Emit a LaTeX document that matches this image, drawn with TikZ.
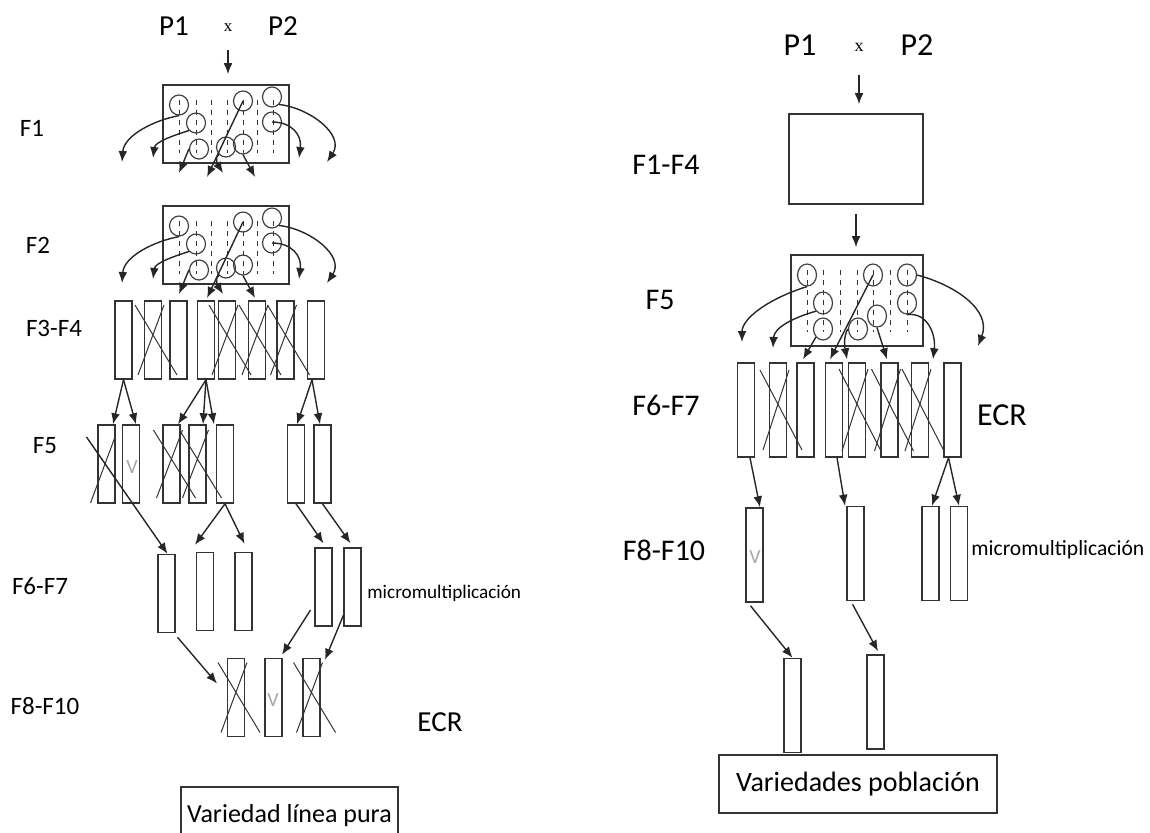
\documentclass[tikz,border=0pt]{standalone}
\usepackage{fontspec}
\setmainfont{Carlito}
\newfontfamily\crossfont{Liberation Serif}
\usetikzlibrary{shapes.geometric, arrows.meta, positioning}

% X over a discarded line
\newcommand\barcross[2]{%
  \draw[xline] ([shift={(-18,-#2)}]#1.center) -- ([shift={(24,#2)}]#1.center)
               ([shift={(11,-#2)}]#1.center) -- ([shift={(-15,#2)}]#1.center);}

\begin{document}
\begin{tikzpicture}[
    x=0.5pt, y=-0.5pt,
    >={Latex[length=5.5pt,width=4.4pt]},
    bar/.style={draw=black!80, line width=0.75pt, minimum width=8.5pt, minimum height=39pt, inner sep=0pt},
    tallbar/.style={bar, minimum height=47pt},
    genbox/.style={draw=black!80, line width=0.8pt, inner sep=0pt},
    seed/.style={ellipse, draw=black!75, line width=0.6pt, minimum width=9.5pt, minimum height=10pt, inner sep=0pt},
    seedR/.style={seed, minimum height=11pt},
    dashline/.style={black!80, line width=0.5pt, dash pattern=on 2.5pt off 2.5pt},
    xline/.style={black!80, line width=0.5pt},
    flow/.style={->, black!85, line width=0.7pt},
    gen/.style={font=\fontsize{12.5}{14}\selectfont},
    genR/.style={font=\fontsize{15}{17}\selectfont},
    tag/.style={anchor=west, inner sep=0pt},
    vmark/.style={font=\fontsize{10}{11}\selectfont, text=black!35},
]
\clip (0,0) rectangle (1150,832);

% ---------- left: pure line variety ----------
\node[font=\fontsize{14.5}{16}\selectfont] (p1) at (174,26) {P1};
\node[font=\crossfont\fontsize{8.5}{9}\selectfont] (cx) at (228,28) {x};
\node[font=\fontsize{14.5}{16}\selectfont] (p2) at (283,26) {P2};

\node[gen] (lf1) at (32,128) {F1};
\node[gen] (lf2) at (38,245) {F2};
\node[gen] (lf34) at (54,328) {F3-F4};
\node[gen] (lf5) at (45,446) {F5};
\node[gen] (lf67) at (40,586) {F6-F7};
\node[gen] (lf810) at (45,706) {F8-F10};

% F1 and F2 segregating populations
\foreach \dy/\g in {0/a,121/b}{
  \node[genbox, minimum width=63pt, minimum height=39pt] (box\g) at (226,124+\dy) {};
  \foreach \x in {179,196,211,227,243,257,273}
    \draw[dashline] (\x,100+\dy) -- (\x,153+\dy);
  \node[seed] (\g1) at (179,105+\dy) {};
  \node[seed] (\g2) at (196,123+\dy) {};
  \node[seed] (\g3) at (199,149+\dy) {};
  \node[seed] (\g4) at (243,101+\dy) {};
  \node[seed] (\g5) at (226,147+\dy) {};
  \node[seed] (\g6) at (243,144+\dy) {};
  \node[seed] (\g7) at (272,97+\dy) {};
  \node[seed] (\g8) at (272,122+\dy) {};
  \coordinate (e\g1) at (122,162+\dy);
  \coordinate (e\g2) at (153,158+\dy);
  \coordinate (e\g3) at (179,173+\dy);
  \coordinate (e\g4) at (207,177+\dy);
  \coordinate (e\g5) at (223,173+\dy);
  \coordinate (e\g6) at (255,177+\dy);
  \coordinate (e\g7) at (327,162+\dy);
  \coordinate (e\g8) at (299,158+\dy);
  \draw[flow] (\g1.south) .. controls (155,120+\dy) and (124,135+\dy) .. (e\g1);
  \draw[flow] (\g2.south west) .. controls (172,136+\dy) and (155,142+\dy) .. (e\g2);
  \draw[flow] (\g3.west) -- (e\g3);
  \draw[flow] (\g4.center) -- (e\g4);
  \draw[flow] (\g5.south west) .. controls (214,157+\dy) and (218,165+\dy) .. (e\g5);
  \draw[flow] (\g6.south) -- (e\g6);
  \draw[flow] (\g7.south east) .. controls (310,108+\dy) and (345,135+\dy) .. (e\g7);
  \draw[flow] (\g8.center) .. controls (292,122+\dy) and (302,135+\dy) .. (e\g8);
}
\draw[flow, shorten <=5.5pt, shorten >=5pt] (cx) -- (cx |- boxa.north);

% F3-F4 lines
\foreach \x/\n in {123.5/a,153/b,178.5/c,206/d,227/e,257/f,285.5/g,316/h}
  \node[bar] (f34\n) at (\x,340) {};
\barcross{f34b}{35}
\barcross{f34e}{35}
\barcross{f34f}{35}
\barcross{f34g}{35}

% F5
\foreach \x/\n in {106.5/a,131/b,171.5/c,197.5/d,225/e,296/f,322.5/g}
  \node[bar] (f5\n) at (\x,464) {};
\draw[xline] ([shift={(8.5,-27)}]f5a.center) -- ([shift={(-16,39)}]f5a.center);
\barcross{f5c}{34}
\barcross{f5d}{34}
\node[vmark] (v1) at (132,467) {V};
\draw[flow] (f34a.south) -- ([shift={(6.5,0)}]f5a.north);
\draw[flow] (f34a.south) -- ([shift={(5,0)}]f5b.north);
\draw[flow] (f34d.south) -- ([shift={(6.5,0)}]f5c.north);
\draw[flow] (f34d.south) -- ([shift={(5.5,0)}]f5d.north);
\draw[flow] (f34d.south) -- ([shift={(-11,0)}]f5e.north);
\draw[flow] ([shift={(-4,0)}]f34h.south) -- ([shift={(1,0)}]f5f.north);
\draw[flow] ([shift={(-4,0)}]f34h.south) -- ([shift={(-2.5,0)}]f5g.north);

% F6-F7
\node[bar] (f67a) at (166.5,593.5) {};
\node[bar] (f67b) at (205,591.5) {};
\node[bar] (f67c) at (243.5,591.5) {};
\node[bar] (f67d) at (323.5,587) {};
\node[bar] (f67e) at (352.5,587) {};
\node[tag, font=\fontsize{9.6}{11}\selectfont] (mm1) at (367,593) {micromultiplicación};
\draw[flow] ([shift={(-20,-27)}]f5a.center) -- ([shift={(1,0)}]f67a.north);
\draw[flow] (f5e.south) -- ([shift={(-10,-7)}]f67b.north);
\draw[flow] (f5e.south) -- ([shift={(1,-8)}]f67c.north);
\draw[flow] (f5f.south) -- ([shift={(0,-4)}]f67d.north);
\draw[flow] (f5g.south) -- ([shift={(-2,-4)}]f67e.north);

% F8-F10
\foreach \x/\n in {236/a,273.5/b,311.5/c}
  \node[bar] (f810\n) at (\x,697.5) {};
\barcross{f810a}{35}
\barcross{f810c}{35}
\node[vmark] (v2) at (273,700) {V};
\draw[flow] ([shift={(11,4)}]f67a.south) -- ([shift={(-19,-14)}]f810a.center);
\draw[flow] ([shift={(-13,23)}]f67d.center) -- ([shift={(8.5,-3)}]f810b.north);
\draw[flow] ([shift={(-9,28)}]f67e.center) -- ([shift={(13.5,2)}]f810c.north);
\node[font=\fontsize{14.5}{16}\selectfont] (ecr1) at (440,722) {ECR};

\node[genbox, minimum width=108.5pt, minimum height=29pt, font=\fontsize{13}{15}\selectfont] (purebox) at (289.5,816) {Variedad línea pura};

% ---------- right: population varieties ----------
\node[font=\fontsize{16}{18}\selectfont] (q1) at (800,45) {P1};
\node[font=\crossfont\fontsize{9}{10}\selectfont] (qx) at (859,47) {x};
\node[font=\fontsize{16}{18}\selectfont] (q2) at (917,45) {P2};

\node[genR] (rf14) at (666,165) {F1-F4};
\node[genR] (rf5) at (660,300) {F5};
\node[genR] (rf67) at (666,405) {F6-F7};
\node[genR] (rf810) at (664,550) {F8-F10};

\node[genbox, minimum width=67pt, minimum height=45pt] (boxc) at (856,159) {};
\draw[flow, shorten <=8.5pt, shorten >=4.5pt] (qx) -- (qx |- boxc.north);

% F5 population
\node[genbox, minimum width=66pt, minimum height=45.5pt] (boxd) at (857,300.5) {};
\draw[flow, shorten <=4.5pt, shorten >=3.5pt] (boxc.south) -- (boxc.south |- boxd.north);
\foreach \x in {807,823,840,857,873,890,907}
  \draw[dashline] (\x,270) -- (\x,332);
\node[seedR] (r1) at (807,275) {};
\node[seedR] (r2) at (823,303) {};
\node[seedR] (r3) at (823,329) {};
\node[seedR] (r4) at (873,275) {};
\node[seedR] (r5) at (858,329) {};
\node[seedR] (r6) at (877,316) {};
\node[seedR] (r7) at (907,275) {};
\node[seedR] (r8) at (907,303) {};
\coordinate (er1) at (742,342);
\coordinate (er2) at (773,348);
\coordinate (er7) at (978,346);

% F6-F7 lines
\foreach \x/\n in {746/a,778/b,805.5/c,834/d,857/e,889.5/f,920/g,952.5/h}
  \node[tallbar] (g67\n) at (\x,410) {};
\barcross{g67b}{40}
\barcross{g67e}{41}
\barcross{g67f}{41}
\barcross{g67g}{41}
\node[font=\fontsize{16}{18}\selectfont] (ecr2) at (1002,415) {ECR};

\draw[flow] (r1.south) .. controls (770,298) and (742,318) .. (er1);
\draw[flow] (r2.south west) .. controls (792,318) and (774,328) .. (er2);
\draw[flow] (r3.south west) -- ([shift={(-2.5,-3)}]g67c.north);
\draw[flow] (r4.center) -- ([shift={(-4,-3)}]g67d.north);
\draw[flow] (r5.west) .. controls (843,336) and (845,348) .. ([shift={(-10,-3)}]g67e.north);
\draw[flow] (r6.south) -- ([shift={(-2.5,-3)}]g67f.north);
\draw[flow] (r8.south) .. controls (928,312) and (936,335) .. ([shift={(13,-3)}]g67g.north);
\draw[flow] (r7.east) .. controls (955,285) and (992,310) .. (er7);

% F8-F10
\node[tallbar] (h810a) at (754.5,555) {};
\node[tallbar] (h810b) at (855.5,553.5) {};
\node[tallbar] (h810c) at (930.5,553.5) {};
\node[tallbar] (h810d) at (959,553.5) {};
\node[vmark] (v3) at (755,557) {V};
\node[tag, font=\fontsize{10.8}{12}\selectfont] (mm2) at (971,550) {micromultiplicación};
\draw[flow] ([shift={(4,0)}]g67a.south) -- ([shift={(5.5,0)}]h810a.north);
\draw[flow] ([shift={(3,0)}]g67d.south) -- ([shift={(-10.5,0)}]h810b.north);
\draw[flow] ([shift={(-4,0)}]g67h.south) -- ([shift={(1.5,0)}]h810c.north);
\draw[flow] ([shift={(-4,0)}]g67h.south) -- (h810d.north);

% synthetic varieties
\node[tallbar] (k1) at (792.5,705.5) {};
\node[tallbar] (k2) at (875.5,702) {};
\draw[flow] ([shift={(-4,3)}]h810a.south) -- (k1.north);
\draw[flow] ([shift={(-3,3)}]h810b.south) -- ([shift={(2.5,-3)}]k2.north);
\node[genbox, minimum width=139pt, minimum height=29pt, font=\fontsize{14}{16}\selectfont] (popbox) at (858,784) {Variedades población};

\end{tikzpicture}
\end{document}
